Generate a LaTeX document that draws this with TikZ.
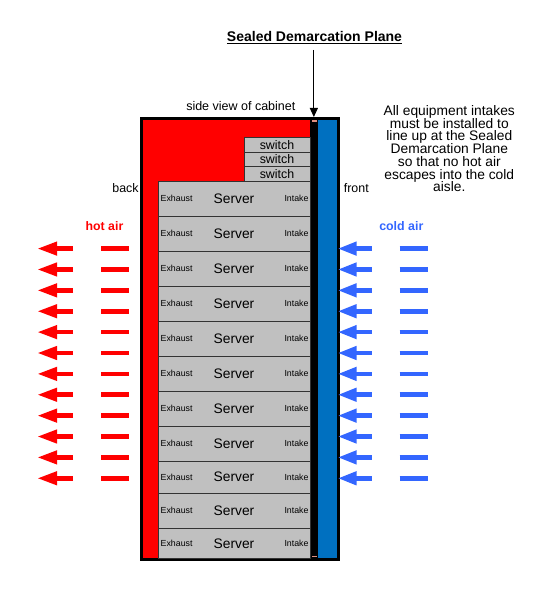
\documentclass[tikz,border=0pt]{standalone}
\usepackage{fontspec}
\setmainfont{Liberation Sans}
\usepackage{xcolor}
\usetikzlibrary{positioning,arrows.meta}
\definecolor{hotred}{HTML}{FF0000}
\definecolor{frontblue}{HTML}{0070C0}
\definecolor{coldblue}{HTML}{3366FF}
\definecolor{rackgray}{HTML}{C0C0C0}
\definecolor{sealpink}{HTML}{E09080}
\setlength{\lineskiplimit}{-20pt}

\begin{document}
\begin{tikzpicture}[
        x=1pt, y=-1pt,
        every node/.style={inner sep=0pt, outer sep=0pt},
        cabinet/.style={rectangle, draw=black, line width=3pt, fill=hotred, minimum width=197pt, minimum height=441.3pt},
        unit/.style={rectangle, draw=black!80, line width=0.8pt, fill=rackgray},
        server/.style={unit, minimum width=152pt, minimum height=#1, font=\fontsize{13.8}{15}\selectfont,
            label={[exhaust]west:Exhaust}, label={[intake]east:Intake}},
        exhaust/.style={anchor=west, xshift=2.7pt, font=\fontsize{8.8}{10}\selectfont},
        intake/.style={anchor=east, xshift=-1.5pt, font=\fontsize{8.8}{10}\selectfont},
        switchbox/.style={unit, minimum width=66pt, minimum height=14.4pt, font=\fontsize{12.4}{14}\selectfont},
        caption/.style={font=\fontsize{12.4}{14}\selectfont, anchor=base},
        pointer/.style={line width=1pt, -{Triangle[length=9pt, width=8pt]}},
        hotflow/.style={hotred, line width=4.7pt, -{Triangle[length=20pt, width=12.7pt]}},
        coldflow/.style={coldblue, line width=4.7pt, -{Triangle[length=19pt, width=12.7pt]}},
        hotdash/.style={hotred, line width=4.7pt},
        colddash/.style={coldblue, line width=4.7pt}
    ]
        \useasboundingbox (0,0) rectangle (557,601);

        % Cabinet
        \node[cabinet] (cabinet) at (240,339.15) {};
        \node[rectangle, fill=frontblue, minimum width=19.3pt, minimum height=438.3pt] (front) at (327.35,339.15) {};
        \node[rectangle, fill=black, minimum width=7.7pt, minimum height=444pt] (plane) at (313.85,339) {};
        \fill[sealpink] (311.7,120) rectangle (316.5,121.8);
        \fill[sealpink] (311.5,555.5) rectangle (316.5,557.2);

        % Servers
        \node[server=35pt] (srv1) at (234,198.5) {Server};
        \node[server=35pt, below=0pt of srv1] (srv2) {Server};
        \node[server=35pt, below=0pt of srv2] (srv3) {Server};
        \node[server=35pt, below=0pt of srv3] (srv4) {Server};
        \node[server=35pt, below=0pt of srv4] (srv5) {Server};
        \node[server=35pt, below=0pt of srv5] (srv6) {Server};
        \node[server=35.3pt, below=0pt of srv6] (srv7) {Server};
        \node[server=34.7pt, below=0pt of srv7] (srv8) {Server};
        \node[server=32.3pt, below=0pt of srv8] (srv9) {Server};
        \node[server=35pt, below=0pt of srv9] (srv10) {Server};
        \node[server=30pt, below=0pt of srv10] (srv11) {Server};

        % Switches
        \node[switchbox, above left=0pt and 0pt of srv1.north east] (sw3) {switch};
        \node[switchbox, above=0pt of sw3] (sw2) {switch};
        \node[switchbox, above=0pt of sw2] (sw1) {switch};

        % Labels
        \node[font=\bfseries\fontsize{14}{16}\selectfont, anchor=base] (title) at (314.5,41.3) {\underline{Sealed Demarcation Plane}};
        \node[caption, font=\fontsize{12.5}{14}\selectfont] (sideview) at (240.8,111) {side view of cabinet};
        \node[caption] (back) at (125.5,192.7) {back};
        \node[caption] (frontlabel) at (356.3,192.7) {front};
        \node[caption, font=\bfseries\fontsize{12.3}{14}\selectfont, text=hotred] (hotair) at (104.5,231) {hot air};
        \node[caption, font=\bfseries\fontsize{12.4}{14}\selectfont, text=coldblue] (coldair) at (401.3,230.5) {cold air};
        \node[anchor=north, align=center, font=\fontsize{13.8}{12.7}\selectfont] (note) at (449.3,105.6)
            {All equipment intakes\\must be installed to\\line up at the Sealed\\Demarcation Plane\\so that no hot air\\escapes into the cold\\aisle.};

        % Arrow to the plane
        \draw[pointer, shorten <=6.5pt] (title.south -| plane.north) -- (plane.north);

        % Air flow
        \foreach \i in {0,...,11} {
            \pgfmathsetmacro{\y}{248.6+20.88*\i}
            \draw[hotflow] (73,\y) -- (37,\y);
            \draw[hotdash] (101,\y) -- (129,\y);
            \draw[coldflow] (371.7,\y) -- (337.5,\y);
            \draw[colddash] (399.5,\y) -- (427.5,\y);
        }

    \end{tikzpicture}
\end{document}
